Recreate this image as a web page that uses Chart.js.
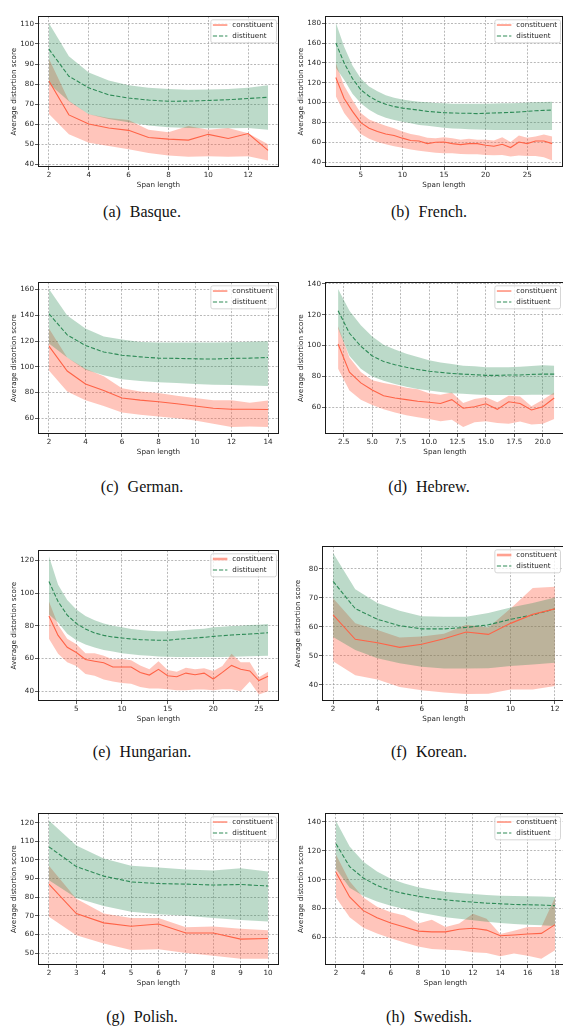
<!DOCTYPE html>
<html><head><meta charset="utf-8">
<script src="https://cdn.jsdelivr.net/npm/chart.js@4.4.0/dist/chart.umd.min.js"></script>
<style>
html,body{margin:0;padding:0;background:#fff;width:563px;height:1028px;overflow:hidden;position:relative}
.box{position:absolute}
.cap{position:absolute;font-family:"Liberation Serif","Times New Roman",serif;font-size:16px;color:#111;transform:translate(-50%,-50%);white-space:nowrap;line-height:1}
.cap .n{margin-left:9px}
</style></head><body>
<script>
// ---------- DATA ----------
const basqueX = [2,3,4,5,6,7,8,9,10,11,12,13];
const basqueConstMean  = [81.5,64.6,60.1,58.1,56.9,53.3,52.5,52.0,54.9,52.8,55.3,46.9];
const basqueConstUpper = [92.6,71.7,64.9,63.0,62.0,57.2,56.0,59.0,57.2,58.1,55.5,50.0];
const basqueConstLower = [65.0,54.9,50.7,49.1,47.5,45.6,44.3,43.7,44.0,43.7,44.0,41.9];
const basqueDistMean   = [97.4,83.9,78.1,74.6,73.0,72.0,71.4,71.5,71.8,72.2,72.8,73.4];
const basqueDistUpper  = [110.3,93.9,85.8,81.8,79.4,78.1,77.5,77.1,77.3,77.5,78.1,79.4];
const basqueDistLower  = [80.2,71.4,64.9,62.5,60.9,59.3,58.5,58.1,58.0,58.0,58.1,57.2];
const basqueXTicks = [2,4,6,8,10,12];
const basqueYTicks = [40,50,60,70,80,90,100,110];

const frenchX = [2,3,4,5,6,7,8,9,10,11,12,13,14,15,16,17,18,19,20,21,22,23,24,25,26,27,28];
const frenchConstMean  = [125.3,104.1,91.1,79.7,74.2,70.9,68.3,66.7,64.1,61.8,61.2,58.6,59.9,60.2,58.6,57.6,58.6,58.6,57.0,56.0,57.9,54.6,60.2,58.6,61.2,61.2,58.6];
const frenchConstUpper = [140.0,117.0,102.5,89.5,83.0,79.7,76.5,74.2,70.9,68.3,66.7,64.4,64.1,65.0,64.1,62.5,63.4,62.5,62.5,61.8,65.0,60.2,66.7,64.4,65.7,67.7,65.7];
const frenchConstLower = [106.4,89.5,78.7,68.3,63.4,60.2,57.9,56.0,54.3,52.7,51.4,50.4,49.4,48.8,48.8,48.1,47.8,47.8,47.2,46.8,47.2,45.5,46.5,46.2,46.2,44.9,41.6];
const frenchDistMean   = [160.1,140.0,124.3,112.9,106.4,101.5,98.3,96.0,94.4,93.4,92.4,91.1,90.5,89.8,89.5,89.2,89.2,88.8,89.2,89.5,89.8,90.1,90.5,91.1,91.8,92.1,92.4];
const frenchDistUpper  = [180.7,156.2,137.3,124.3,116.2,111.3,107.4,104.8,103.2,101.9,100.9,100.2,99.6,99.3,98.9,98.9,98.9,98.9,98.9,99.0,99.2,99.4,99.6,100.0,100.3,100.6,100.9];
const frenchDistLower  = [135.0,123.0,109.0,99.3,92.7,87.9,84.6,82.3,80.7,79.1,77.4,76.5,75.5,74.5,73.9,73.5,73.2,72.9,72.6,72.4,72.3,72.2,72.2,72.2,72.2,72.2,72.2];
const frenchXTicks = [5,10,15,20,25];
const frenchYTicks = [40,60,80,100,120,140,160,180];

const germanX = [2,3,4,5,6,7,8,9,10,11,12,13,14];
const germanConstMean  = [116.0,96.7,86.6,81.6,75.8,74.1,72.8,71.3,69.5,67.8,67.0,67.0,66.8];
const germanConstUpper = [129.8,107.2,98.4,92.7,83.4,80.9,79.6,77.6,75.8,74.1,74.1,72.1,73.8];
const germanConstLower = [97.2,80.9,74.1,69.5,64.5,62.8,61.3,60.0,58.3,55.7,53.2,53.7,53.2];
const germanDistMean   = [141.2,124.8,116.5,111.5,109.0,107.7,106.7,106.5,106.2,106.0,106.5,106.7,107.2];
const germanDistUpper  = [160.5,139.9,129.8,123.6,121.1,119.3,118.8,118.8,118.8,118.9,119.1,119.4,119.8];
const germanDistLower  = [118.0,107.2,97.7,93.4,90.4,88.9,87.9,87.4,86.6,86.1,85.9,85.4,85.1];
const germanXTicks = [2,4,6,8,10,12,14];
const germanYTicks = [60,80,100,120,140,160];

const hebrewX = [2,3,4,5,6,7,8,9,10,11,12,13,14,15,16,17,18,19,20,21];
const hebrewConstMean  = [100.9,82.7,75.7,71.1,67.3,65.9,64.8,63.8,63.1,62.3,64.8,59.2,60.2,62.1,58.5,63.4,62.3,58.1,60.2,65.9];
const hebrewConstUpper = [112.5,92.1,82.7,77.4,75.7,74.3,72.6,71.5,69.0,68.0,69.4,62.7,65.2,66.3,63.1,67.3,66.9,60.6,64.8,69.4];
const hebrewConstLower = [84.8,70.7,64.8,61.3,58.5,56.4,54.7,53.3,52.2,50.8,51.8,47.0,50.1,50.8,49.7,49.1,50.6,48.7,49.1,52.2];
const hebrewDistMean   = [122.6,107.9,99.5,93.2,89.6,87.5,85.8,84.4,83.3,82.5,81.8,81.4,81.0,80.6,80.6,80.8,80.8,81.2,81.4,81.4];
const hebrewDistUpper  = [136.6,122.6,113.1,105.8,100.5,97.4,94.6,92.5,90.4,89.0,87.9,86.9,86.5,85.8,85.8,85.8,86.2,86.7,87.1,86.9];
const hebrewDistLower  = [111.0,93.2,84.8,79.9,77.0,74.9,73.2,71.8,70.7,69.7,69.0,68.6,68.2,67.8,67.8,67.8,67.9,68.0,68.0,68.0];
const hebrewXTicks = [2.5,5.0,7.5,10.0,12.5,15.0,17.5,20.0];
const hebrewYTicks = [60,80,100,120,140];

const hungarianX = [2,3,4,5,6,7,8,9,10,11,12,13,14,15,16,17,18,19,20,21,22,23,24,25,26];
const hungarianConstMean  = [86.0,74.2,66.9,63.7,59.4,58.4,57.4,54.8,54.8,54.8,51.5,49.9,53.4,49.5,48.9,51.1,50.1,51.1,47.5,51.5,55.8,53.4,52.4,46.5,49.1];
const hungarianConstUpper = [94.9,80.7,72.2,68.8,63.3,63.3,61.7,59.4,59.8,59.0,55.8,53.4,58.4,53.0,51.9,54.4,53.4,54.0,52.4,55.4,62.9,57.8,57.8,48.5,51.9];
const hungarianConstLower = [72.2,62.9,57.8,55.4,50.5,49.5,47.1,45.9,45.1,44.5,42.6,41.6,41.6,41.2,40.6,40.6,41.0,41.0,40.6,41.2,41.2,40.0,45.9,38.0,40.0];
const hungarianDistMean   = [107.2,94.9,86.6,81.5,78.1,75.7,74.2,73.2,72.6,72.0,71.6,71.4,71.2,71.2,71.8,72.2,72.6,73.0,73.6,74.0,74.4,74.8,75.0,75.4,75.8];
const hungarianDistUpper  = [122.6,105.2,95.9,90.0,86.0,83.5,81.5,80.1,79.1,78.1,77.5,77.1,76.7,76.7,77.1,77.5,77.9,78.3,79.1,79.5,79.9,80.1,80.5,80.7,81.1];
const hungarianDistLower  = [87.0,82.1,75.2,71.2,68.6,66.7,65.3,64.3,63.3,62.7,62.1,61.7,61.3,61.1,60.9,60.9,60.9,60.9,60.9,61.0,61.1,61.3,61.4,61.5,61.7];
const hungarianXTicks = [5,10,15,20,25];
const hungarianYTicks = [40,60,80,100,120];

const koreanX = [2,3,4,5,6,7,8,9,10,11,12];
const koreanConstMean  = [64.1,55.7,54.5,52.9,54.0,55.9,58.2,57.4,61.2,64.3,66.2];
const koreanConstUpper = [69.9,61.2,58.9,56.3,56.7,57.6,60.7,59.8,66.3,73.4,73.8];
const koreanConstLower = [48.1,43.3,41.8,39.2,38.1,37.3,36.8,36.9,38.4,38.4,39.6];
const koreanDistMean   = [75.7,66.3,62.6,60.4,59.3,59.3,59.8,60.7,62.6,64.1,66.2];
const koreanDistUpper  = [85.5,73.0,68.2,65.6,63.7,63.5,63.5,64.8,66.7,68.2,70.1];
const koreanDistLower  = [56.5,52.0,49.2,47.4,46.2,45.6,45.6,45.7,46.5,47.0,47.6];
const koreanXTicks = [2,4,6,8,10,12];
const koreanYTicks = [40,50,60,70,80];

const polishX = [2,3,4,5,6,7,8,9,10];
const polishConstMean  = [87.0,71.2,66.2,64.4,65.6,60.8,60.8,57.5,57.8];
const polishConstUpper = [96.9,79.2,71.2,68.8,68.8,63.9,64.2,63.0,62.2];
const polishConstLower = [69.5,59.6,55.2,51.7,52.1,50.0,48.6,47.0,47.0];
const polishDistMean   = [107.0,96.4,91.3,88.2,87.3,87.0,86.5,86.8,86.0];
const polishDistUpper  = [121.2,107.7,100.7,96.9,95.9,94.8,94.3,95.5,93.8];
const polishDistLower  = [89.1,79.5,75.2,72.2,70.8,70.0,68.8,67.7,67.0];
const polishXTicks = [2,3,4,5,6,7,8,9,10];
const polishYTicks = [50,60,70,80,90,100,110,120];

const swedishX = [2,3,4,5,6,7,8,9,10,11,12,13,14,15,16,17,18];
const swedishConstMean  = [105.2,88.0,78.5,73.6,69.9,67.2,64.3,63.8,63.8,65.6,66.3,65.0,61.1,61.6,62.3,62.7,68.8];
const swedishConstUpper = [117.4,98.9,87.6,81.2,77.4,75.1,69.5,72.2,67.2,69.5,76.3,72.9,62.3,64.5,67.2,67.2,87.6];
const swedishConstLower = [87.6,74.0,66.6,62.7,59.3,56.4,53.7,51.9,51.4,51.0,49.6,49.2,46.9,48.7,47.3,45.1,51.0];
const swedishDistMean   = [124.9,109.0,101.1,95.9,92.5,90.3,88.5,87.1,86.0,85.1,84.4,83.7,83.3,82.8,82.6,82.4,81.9];
const swedishDistUpper  = [140.7,123.0,112.4,105.6,100.7,97.3,94.8,93.0,91.6,90.7,90.0,89.4,88.9,88.7,88.5,88.3,88.0];
const swedishDistLower  = [107.5,94.4,88.7,84.9,81.9,79.7,77.4,75.6,74.0,72.9,71.8,70.8,69.9,69.3,68.8,68.4,67.9];
const swedishXTicks = [2,4,6,8,10,12,14,16,18];
const swedishYTicks = [60,80,100,120,140];

const seriesLabels = ['constituent','distituent'];
const xTitle = 'Span length';
const yTitle = 'Average distortion score';

// ---------- STYLE ----------
const RED = '#ff6347', GREEN = '#2e8b57';
const RED_BAND = 'rgba(255,99,71,0.37)', GREEN_BAND = 'rgba(46,139,87,0.32)';
const GRID = 'rgba(150,150,150,0.85)';
const TXT = '#262626';
const FONT = {family:'"DejaVu Sans"', size:7.2};
Chart.defaults.font.family = '"DejaVu Sans"';

const framePlugin = {
  id:'frame',
  afterDatasetsDraw(chart){
    const {ctx, chartArea:a} = chart;
    ctx.save(); ctx.strokeStyle = '#1a1a1a'; ctx.lineWidth = 1;
    ctx.strokeRect(Math.round(a.left)+0.5, Math.round(a.top)+0.5, Math.round(a.right-a.left)-1, Math.round(a.bottom-a.top)-1);
    ctx.restore();
  }
};
const legendPlugin = {
  id:'mlegend',
  afterDraw(chart, args, o){
    const {ctx, chartArea:a} = chart;
    ctx.save();
    ctx.font = '7.2px "DejaVu Sans"';
    const tw = Math.max(...seriesLabels.map(t=>ctx.measureText(t).width));
    const bw = 2.5 + 14.5 + 5 + tw + 3, bh = 23;
    const right = Math.min(a.right, o.maxRight) - 3;
    const x0 = right - bw, y0 = a.top + 3;
    ctx.beginPath();
    if (ctx.roundRect) ctx.roundRect(x0+0.5, y0+0.5, bw, bh, 2); else ctx.rect(x0+0.5,y0+0.5,bw,bh);
    ctx.fillStyle = 'rgba(255,255,255,0.8)'; ctx.fill();
    ctx.strokeStyle = '#cccccc'; ctx.lineWidth = 0.8; ctx.stroke();
    seriesLabels.forEach((t,i)=>{
      const y = y0 + 5.7 + i*11;
      ctx.beginPath();
      if (i===0) { ctx.strokeStyle = o.thick ? 'rgba(255,99,71,0.6)' : RED; ctx.lineWidth = o.thick ? 2.6 : 1.1; ctx.setLineDash([]); }
      else { ctx.strokeStyle = GREEN; ctx.lineWidth = 1.1; ctx.setLineDash([4.2,1.9]); }
      ctx.moveTo(x0+2.5, y); ctx.lineTo(x0+17, y); ctx.stroke();
      ctx.setLineDash([]);
      ctx.fillStyle = TXT; ctx.textBaseline = 'middle'; ctx.textAlign = 'left';
      ctx.fillText(t, x0+22, y);
    });
    ctx.restore();
  }
};

function pts(x, y){ return x.map((v,i)=>({x:v, y:y[i]})); }

function makePanel(p){
  const YW = 38, XH = 22, PADT = 1;
  const left = p.plotL - YW, top = p.plotT - PADT;
  const w = p.plotR - p.plotL + YW, h = p.plotB - p.plotT + XH + PADT;
  const div = document.createElement('div');
  div.className = 'box';
  div.style.cssText = `left:${left}px;top:${top}px;width:${w}px;height:${h}px`;
  const c = document.createElement('canvas');
  div.appendChild(c); document.body.appendChild(div);
  const band = (data, color, order, fill) => ({data, fill, backgroundColor:color, borderColor:'rgba(0,0,0,0)', borderWidth:0, pointRadius:0, order});
  const axisCommon = {
    ticks:{font:FONT, color:TXT, padding:1, autoSkip:false, maxRotation:0, minRotation:0},
    grid:{color:GRID, lineWidth:0.8, tickLength:3, tickColor:'#333', tickWidth:0.8, tickBorderDash:[]},
    border:{display:false, dash:[2,1.6]}
  };
  new Chart(c, {
    type:'line',
    data:{datasets:[
      band(pts(p.x, p.cu), RED_BAND, 5, '+1'),
      band(pts(p.x, p.cl), RED_BAND, 5, false),
      band(pts(p.x, p.du), GREEN_BAND, 4, '+1'),
      band(pts(p.x, p.dl), GREEN_BAND, 4, false),
      {label:seriesLabels[1], data:pts(p.x, p.dm), borderColor:GREEN, borderWidth:1.1, borderDash:[4.2,1.9], fill:false, pointRadius:0, order:2},
      {label:seriesLabels[0], data:pts(p.x, p.cm), borderColor:RED, borderWidth:1.1, fill:false, pointRadius:0, order:1}
    ]},
    options:{
      responsive:true, maintainAspectRatio:false, animation:false, devicePixelRatio:1,
      layout:{padding:{top:PADT,left:0,right:0,bottom:0}, autoPadding:false},
      elements:{line:{tension:0}, point:{radius:0}},
      plugins:{legend:{display:false}, tooltip:{enabled:false}, mlegend:{maxRight:563-left, thick:!!p.thickLegend}},
      scales:{
        x:{type:'linear', min:p.xMin, max:p.xMax,
           afterBuildTicks:s=>{ s.ticks = p.xTicks.map(v=>({value:v})); },
           afterFit:s=>{ s.height = XH; },
           ticks:Object.assign({}, axisCommon.ticks, {callback:v=> p.xDec ? Number(v).toFixed(p.xDec) : String(v)}),
           grid:axisCommon.grid, border:axisCommon.border,
           title:{display:true, text:xTitle, font:FONT, color:TXT, padding:{top:0,bottom:0}}},
        y:{type:'linear', min:p.yMin, max:p.yMax,
           afterBuildTicks:s=>{ s.ticks = p.yTicks.map(v=>({value:v})); },
           afterFit:s=>{ s.width = YW; },
           ticks:Object.assign({}, axisCommon.ticks, {callback:v=>String(v)}),
           grid:axisCommon.grid, border:axisCommon.border,
           title:{display:true, text:yTitle, font:FONT, color:TXT, padding:{top:9.6,bottom:0}}}
      }
    },
    plugins:[framePlugin, legendPlugin]
  });
  const cap = document.createElement('div');
  cap.className = 'cap';
  cap.style.left = p.capX + 'px'; cap.style.top = p.capY + 'px';
  cap.innerHTML = `<span>(${p.tag})</span><span class="n">${p.name}.</span>`;
  document.body.appendChild(cap);
}

const panels = [
  {tag:'a', name:'Basque', x:basqueX, cm:basqueConstMean, cu:basqueConstUpper, cl:basqueConstLower, dm:basqueDistMean, du:basqueDistUpper, dl:basqueDistLower, xTicks:basqueXTicks, yTicks:basqueYTicks,
   plotL:38, plotR:279, plotT:12, plotB:167, xMin:1.45, xMax:13.55, yMin:38.6, yMax:113.8, capX:142, capY:212},
  {tag:'b', name:'French', x:frenchX, cm:frenchConstMean, cu:frenchConstUpper, cl:frenchConstLower, dm:frenchDistMean, du:frenchDistUpper, dl:frenchDistLower, xTicks:frenchXTicks, yTicks:frenchYTicks,
   plotL:325, plotR:563, plotT:12, plotB:167, xMin:0.7, xMax:29.3, yMin:35, yMax:187, capX:429, capY:212},
  {tag:'c', name:'German', x:germanX, cm:germanConstMean, cu:germanConstUpper, cl:germanConstLower, dm:germanDistMean, du:germanDistUpper, dl:germanDistLower, xTicks:germanXTicks, yTicks:germanYTicks,
   plotL:38, plotR:279, plotT:278, plotB:434, xMin:1.4, xMax:14.6, yMin:47.8, yMax:165.6, capX:142, capY:487},
  {tag:'d', name:'Hebrew', x:hebrewX, cm:hebrewConstMean, cu:hebrewConstUpper, cl:hebrewConstLower, dm:hebrewDistMean, du:hebrewDistUpper, dl:hebrewDistLower, xTicks:hebrewXTicks, yTicks:hebrewYTicks, xDec:1,
   plotL:325, plotR:565, plotT:278, plotB:434, xMin:0.85, xMax:21.95, yMin:42.5, yMax:141, capX:429, capY:487},
  {tag:'e', name:'Hungarian', x:hungarianX, cm:hungarianConstMean, cu:hungarianConstUpper, cl:hungarianConstLower, dm:hungarianDistMean, du:hungarianDistUpper, dl:hungarianDistLower, xTicks:hungarianXTicks, yTicks:hungarianYTicks, thickLegend:true,
   plotL:38, plotR:279, plotT:546, plotB:701, xMin:0.8, xMax:27.2, yMin:34, yMax:126.3, capX:142, capY:752},
  {tag:'f', name:'Korean', x:koreanX, cm:koreanConstMean, cu:koreanConstUpper, cl:koreanConstLower, dm:koreanDistMean, du:koreanDistUpper, dl:koreanDistLower, xTicks:koreanXTicks, yTicks:koreanYTicks, thickLegend:true,
   plotL:322, plotR:566, plotT:542, plotB:701, xMin:1.5, xMax:12.5, yMin:34.4, yMax:87.8, capX:429, capY:752},
  {tag:'g', name:'Polish', x:polishX, cm:polishConstMean, cu:polishConstUpper, cl:polishConstLower, dm:polishDistMean, du:polishDistUpper, dl:polishDistLower, xTicks:polishXTicks, yTicks:polishYTicks,
   plotL:38, plotR:279, plotT:809, plotB:965, xMin:1.6, xMax:10.4, yMin:43.6, yMax:125, capX:142, capY:1017},
  {tag:'h', name:'Swedish', x:swedishX, cm:swedishConstMean, cu:swedishConstUpper, cl:swedishConstLower, dm:swedishDistMean, du:swedishDistUpper, dl:swedishDistLower, xTicks:swedishXTicks, yTicks:swedishYTicks,
   plotL:325, plotR:566, plotT:809, plotB:965, xMin:1.2, xMax:18.8, yMin:40.8, yMax:146, capX:429, capY:1017}
];
panels.forEach(makePanel);
</script>
</body></html>
